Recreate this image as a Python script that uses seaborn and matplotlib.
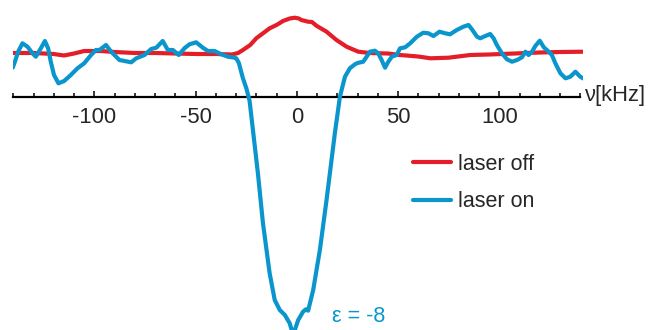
import matplotlib
matplotlib.use("Agg")
import matplotlib.pyplot as plt
from matplotlib.ticker import MultipleLocator
import seaborn as sns

# detuning (kHz) and signal (arb. units)
off_khz = [-140.3, -130, -120, -115, -110, -105, -97, -90, -80, -70, -60, -50, -40, -32,
           -29, -26.6, -23, -20, -16.5, -13.4, -10, -6.8, -3.5, -1, 1, 2.3, 5.6, 7.5, 9.7,
           14.7, 19.6, 24.6, 30.4, 36, 45, 51, 60, 66, 75, 85.6, 95, 110, 120, 130, 141.5]
off_signal = [44, 44, 43, 41.5, 43.5, 46, 46, 45, 44, 44, 43.5, 43, 43, 42.5,
              44, 47, 52, 58.7, 64, 68.7, 72, 76, 78.5, 79.3, 78.5, 77, 75.3, 75, 71.3,
              65.3, 57, 50.3, 45.3, 44, 43.5, 42, 40.5, 38.7, 39.3, 42, 42.5, 43.7, 44.5, 45, 45.3]

on_khz = [-140.3, -139.2, -137.6, -135.5, -133, -130.5, -128.9, -126.4, -124.4, -122.8,
          -121.5, -119.9, -117.7, -114.9, -111.6, -108.3, -105, -101.6, -99.2, -97.5,
          -94.2, -91.7, -87.6, -84.3, -81.8, -79.3, -75.2, -71.9, -69.4, -66.2, -63.7,
          -61.2, -58.3, -55.5, -53, -49.7, -46.4, -43.9, -40.6, -37.3, -34, -30.7, -29.9,
          -28.6, -26.6, -24.9, -23.3, -19.2, -16.7, -13.4, -10.9, -8.4, -5.9, -3.5, -1.8,
          0.7, 3.1, 4.5, 5.6, 8.1, 11.4, 14.7, 18.8, 21.3, 23.8, 26.2, 28.7, 30, 32.8,
          34.5, 36.1, 38.6, 40.2, 41.9, 43.6, 45.2, 46.9, 49.3, 51, 53.5, 56, 59.3, 62.5,
          65, 67.5, 70.5, 73.3, 75.7, 79, 82.3, 84.8, 86.5, 89, 90.6, 93.1, 95.5, 97.2,
          98.8, 101.3, 103.8, 106.3, 108.8, 111.2, 112.9, 114.5, 116.2, 117.8, 120, 122,
          124.4, 126, 127.7, 130.2, 132.7, 135.1, 137.6, 140, 141.5]
on_signal = [29.3, 35.3, 45.3, 53.7, 50.3, 43.7, 40.3, 48.7, 56, 48.7,
             35.3, 22, 13.7, 16, 22, 28.7, 33.7, 42, 47, 47,
             52, 45.3, 37, 35.7, 34.7, 38.7, 42, 48, 49.3, 56, 47,
             47, 42, 48.7, 52.7, 54.7, 49.3, 46, 46, 42.7, 40.3, 39.3, 38.7,
             34, 18.7, 8.7, -4, -76.3, -126.3, -176.3, -203, -213, -218, -226.3, -238,
             -223, -214.7, -212.3, -213.7, -193, -153, -103, -36.3, 0.3, 20.3, 28.7, 32.7, 34, 35.3,
             40.3, 45.3, 46.3, 43.7, 37, 29.3, 35.3, 40.3, 42, 48.7, 49.7, 53.7, 60.3, 64.3,
             63.7, 61, 65.3, 63.7, 62.7, 67, 70.3, 72, 67.7, 60.3, 58.7, 61, 63, 58.7,
             52, 43.7, 37.7, 35.3, 37, 39.7, 45.3, 42, 45.3, 51, 56.3, 49.7,
             45.3, 42, 33.7, 23.7, 18.7, 20.3, 25.3, 20.3, 18.5]

red = "#e41e28"
blue = "#0a96cd"

sns.set_style("white")
plt.rcParams["font.family"] = ["Liberation Sans", "DejaVu Sans"]
plt.rcParams["axes.unicode_minus"] = False

fig = plt.figure(figsize=(6.52, 3.30), dpi=100)
ax = fig.add_axes([12.7 / 652, 0, (583.3 - 12.7) / 652, 1])

sns.lineplot(x=off_khz, y=off_signal, ax=ax, color=red, lw=3, sort=False, label="laser off")
sns.lineplot(x=on_khz, y=on_signal, ax=ax, color=blue, lw=3, sort=False, label="laser on")

ax.set_xlim(-140.3, 141.5)
ax.set_ylim(-233, 97)

for s in ["top", "left", "right"]:
    ax.spines[s].set_visible(False)
ax.spines["bottom"].set_position(("data", 0))
ax.spines["bottom"].set_bounds(-140.3, 139.9)
ax.spines["bottom"].set_linewidth(1.6)
ax.spines["bottom"].set_color("black")
ax.spines["bottom"].set_zorder(0.5)

ax.xaxis.set_major_locator(MultipleLocator(50))
ax.xaxis.set_minor_locator(MultipleLocator(10))
ax.tick_params(axis="x", which="major", direction="in", length=4.2, width=1.1, color="black",
               labelsize=15.8, pad=7, bottom=True)
ax.tick_params(axis="x", which="minor", direction="in", length=2.8, width=1.1, color="black",
               bottom=True)
ax.set_yticks([])
ax.set_xlabel("")
ax.set_ylabel("")

fig.text(585 / 652, 1 - 96 / 330, "ν[kHz]", ha="left", va="center", fontsize=15.8)

ax.text(17.2, -220, "ε = -8", color=blue, ha="left", va="center", fontsize=15.5)

ax.legend(loc="upper left", bbox_to_anchor=(413 / 652, 1 - 154 / 330),
          bbox_transform=fig.transFigure, frameon=False, fontsize=15.5,
          handlelength=1.75, handletextpad=0.35, labelspacing=0.75,
          borderpad=0, borderaxespad=0)

fig.savefig("out.png", dpi=100)
